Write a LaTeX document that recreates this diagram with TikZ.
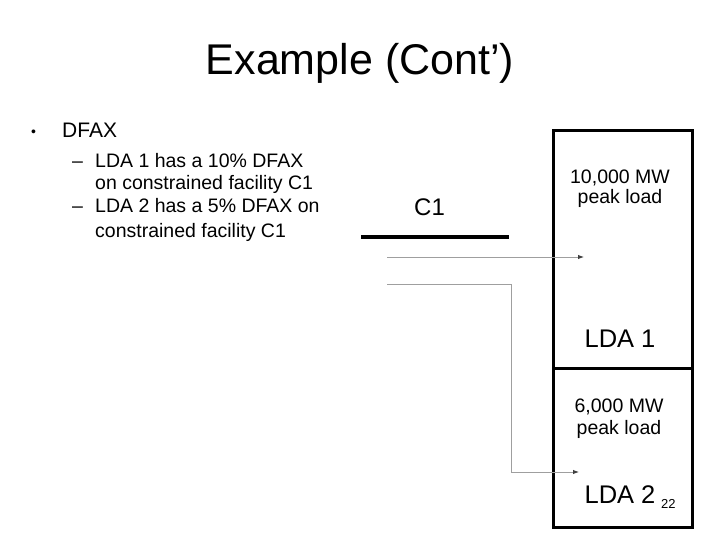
\documentclass[tikz,border=0pt]{standalone}
\usepackage{fontspec}
\setmainfont{Liberation Sans}
\usetikzlibrary{arrows.meta}

\tikzset{
  txt/.style={inner sep=0pt, anchor=base west},
  boxtxt/.style={inner sep=0pt, anchor=base},
  ldabox/.style={draw, line width=3pt, minimum width=139pt, inner sep=0pt},
  flow/.style={gray!75, line width=0.9pt, -{Latex[length=6pt,width=4.5pt,color=black!75]}}
}

\begin{document}
\begin{tikzpicture}[x=1pt, y=-1pt]
  \useasboundingbox (0,0) rectangle (720,540);

  % Title
  \node[boxtxt, font=\fontsize{43}{50}\selectfont] (title) at (360,75) {Example (Cont’)};

  % Bullet text
  \node[txt, font=\fontsize{14}{16}\selectfont] (bul) at (31,137) {•};
  \node[txt, font=\fontsize{21}{25}\selectfont] (dfax) at (62,138) {DFAX};
  \node[txt, font=\fontsize{19.5}{23}\selectfont] (dash1) at (72,168) {–};
  \node[txt, font=\fontsize{19.5}{23}\selectfont] (item1a) at (95,168) {LDA 1 has a 10\% DFAX};
  \node[txt, font=\fontsize{19.5}{23}\selectfont] (item1b) at (95,190) {on constrained facility C1};
  \node[txt, font=\fontsize{19.5}{23}\selectfont] (dash2) at (72,213) {–};
  \node[txt, font=\fontsize{19.5}{23}\selectfont] (item2a) at (95,213) {LDA 2 has a 5\% DFAX on};
  \node[txt, font=\fontsize{19.5}{23}\selectfont] (item2b) at (95,237) {constrained facility C1};

  % Constrained facility
  \node[txt, font=\fontsize{24}{28}\selectfont] (c1) at (414,215) {C1};
  \coordinate (c1w) at (361,237);
  \coordinate (c1e) at (509,237);
  \draw[line width=3.5pt] (c1w) -- (c1e);

  % Load zones
  \node[ldabox, minimum height=237pt] (lda1box) at (622.5,249.5) {};
  \node[ldabox, minimum height=159pt] (lda2box) at (622.5,447.5) {};

  \node[boxtxt, font=\fontsize{19.5}{23}\selectfont] (load1) at (620,184) {10,000 MW};
  \node[boxtxt, font=\fontsize{19.5}{23}\selectfont] (peak1) at (620,204) {peak load};
  \node[boxtxt, font=\fontsize{25.5}{30}\selectfont] (name1) at (620,347) {LDA 1};
  \node[boxtxt, font=\fontsize{19.5}{23}\selectfont] (load2) at (619,412) {6,000 MW};
  \node[boxtxt, font=\fontsize{19.5}{23}\selectfont] (peak2) at (619,434) {peak load};
  \node[boxtxt, font=\fontsize{25.5}{30}\selectfont] (name2) at (620,503) {LDA 2};
  \node[txt, font=\fontsize{13}{15}\selectfont] (pagenum) at (661,508) {22};

  % Flows
  \coordinate (f1s) at (387,257);
  \coordinate (f1e) at (584,257);
  \draw[flow] (f1s) -- (f1e);
  \coordinate (f2s) at (387,284);
  \coordinate (f2k) at (511,472);
  \coordinate (f2e) at (579,472);
  \draw[flow] (f2s) -| (f2k) -- (f2e);
\end{tikzpicture}
\end{document}
